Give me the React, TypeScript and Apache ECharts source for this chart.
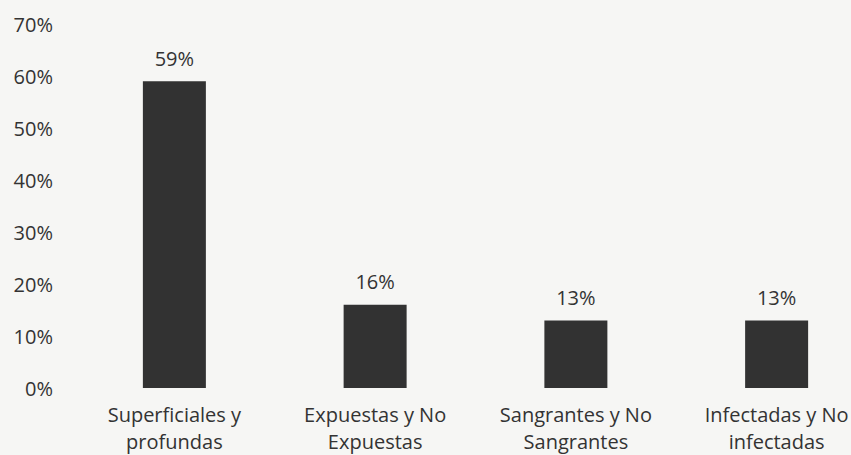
import React, { useEffect, useRef } from "react";
import * as echarts from "echarts";

const categories = [
  "Superficiales y\nprofundas",
  "Expuestas y No\nExpuestas",
  "Sangrantes y No\nSangrantes",
  "Infectadas y No\ninfectadas",
];
const values = [59, 16, 13, 13];
const yTicks = { min: 0, max: 70, interval: 10 };

const FONT = "'Open Sans', 'Noto Sans', sans-serif";
const TEXT = "#333333";

export default function App() {
  const ref = useRef<HTMLDivElement>(null);
  useEffect(() => {
    if (!ref.current) return;
    const chart = echarts.init(ref.current, undefined, { renderer: "svg" });
    chart.setOption({
      animation: false,
      backgroundColor: "#f6f6f4",
      grid: {
        left: 74,
        top: 24,
        width: 803,
        height: 364,
        containLabel: false,
        outerBoundsMode: "none",
      },
      xAxis: {
        type: "category",
        data: categories,
        axisLine: { show: false },
        axisTick: { show: false },
        splitLine: { show: false },
        axisLabel: {
          color: TEXT,
          fontFamily: FONT,
          fontSize: 20,
          lineHeight: 27,
          margin: 13,
          interval: 0,
        },
      },
      yAxis: {
        type: "value",
        min: yTicks.min,
        max: yTicks.max,
        interval: yTicks.interval,
        axisLine: { show: false },
        axisTick: { show: false },
        splitLine: { show: false },
        axisLabel: {
          color: TEXT,
          fontFamily: FONT,
          fontSize: 20,
          margin: 21,
          formatter: (v: number) => `${v}%`,
        },
      },
      series: [
        {
          type: "bar",
          data: values,
          barWidth: 63,
          itemStyle: { color: "#323232" },
          label: {
            show: true,
            position: "top",
            distance: 13,
            color: TEXT,
            fontFamily: FONT,
            fontSize: 20,
            formatter: (p: any) => `${p.value}%`,
          },
        },
      ],
    });
    return () => chart.dispose();
  }, []);
  return (
    <div
      ref={ref}
      style={{ position: "absolute", left: 0, top: 0, width: 851, height: 455 }}
    />
  );
}
